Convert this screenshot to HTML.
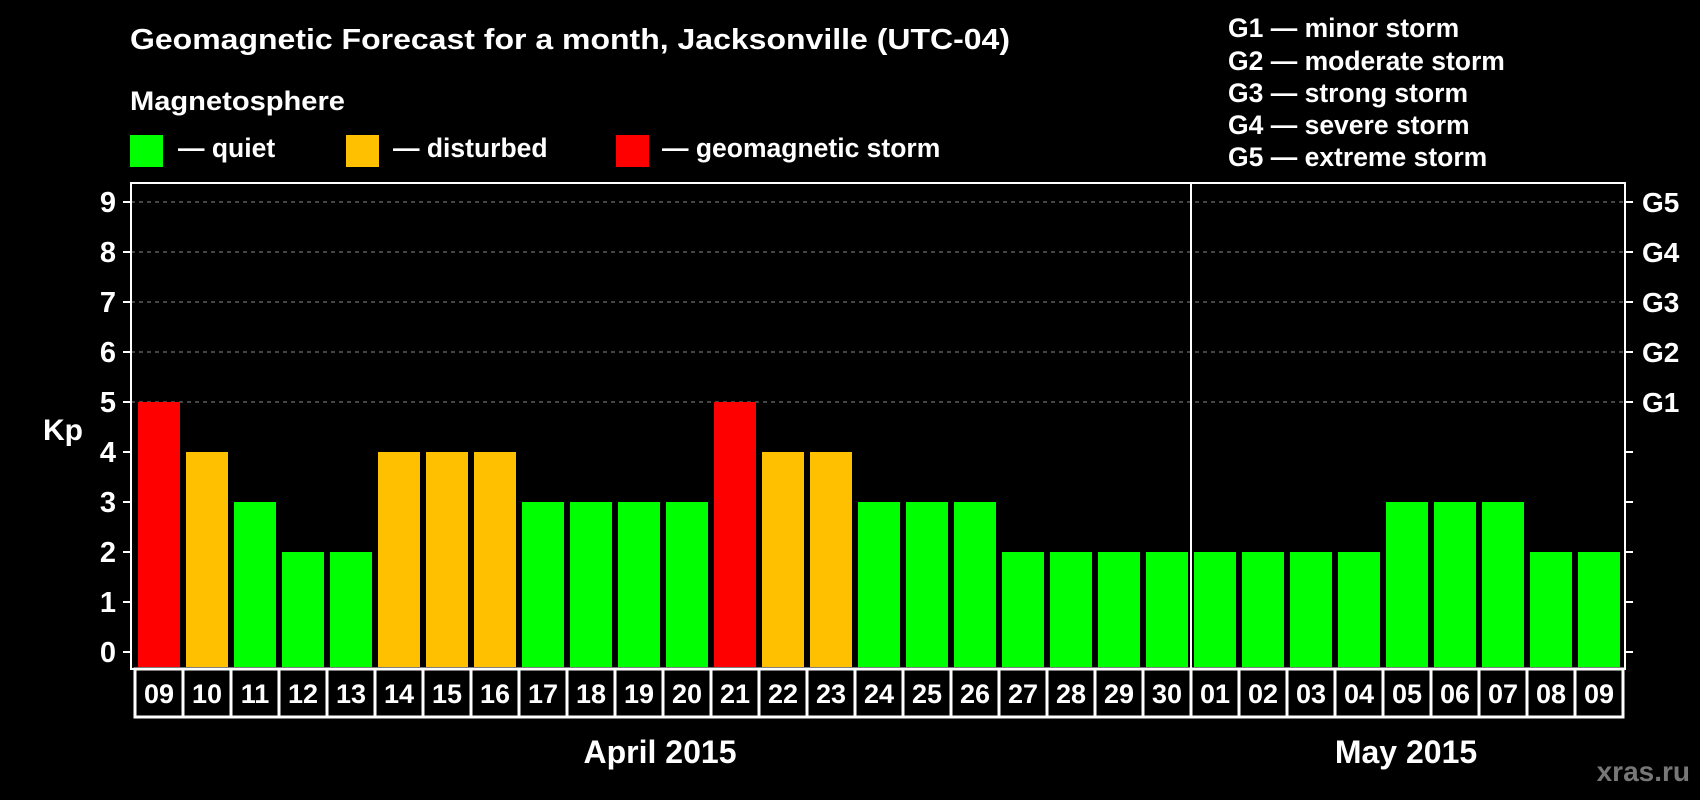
<!DOCTYPE html>
<html><head><meta charset="utf-8"><style>
html,body{margin:0;padding:0;background:#000;width:1700px;height:800px;overflow:hidden}
svg{display:block;font-family:"Liberation Sans",Arial,sans-serif;font-weight:bold}
</style></head><body>
<svg id="chart" width="1700" height="800">
<text x="130" y="49" fill="#fff" font-size="29" textLength="880" lengthAdjust="spacingAndGlyphs">Geomagnetic Forecast for a month, Jacksonville (UTC-04)</text>
<text x="130" y="110" fill="#fff" font-size="27" textLength="215" lengthAdjust="spacingAndGlyphs">Magnetosphere</text>
<g>
<rect x="130" y="135" width="33" height="32" fill="#00ff00"/>
<text x="178" y="157" fill="#fff" font-size="26.5">— quiet</text>
<rect x="346" y="135" width="33" height="32" fill="#ffc000"/>
<text x="393" y="157" fill="#fff" font-size="26.5">— disturbed</text>
<rect x="616" y="135" width="33" height="32" fill="#ff0000"/>
<text x="662" y="157" fill="#fff" font-size="26.5">— geomagnetic storm</text>
</g>
<g fill="#fff" font-size="26.5">
<text x="1228" y="37">G1 — minor storm</text>
<text x="1228" y="70">G2 — moderate storm</text>
<text x="1228" y="102">G3 — strong storm</text>
<text x="1228" y="134">G4 — severe storm</text>
<text x="1228" y="166">G5 — extreme storm</text>
</g>
<text x="43" y="440" fill="#fff" font-size="30">Kp</text>
<text x="660" y="763" fill="#fff" font-size="32" text-anchor="middle">April 2015</text>
<text x="1406" y="763" fill="#fff" font-size="32" text-anchor="middle">May 2015</text>
<text x="1690" y="781" fill="#777" font-size="28" text-anchor="end">xras.ru</text>
<g id="grid"></g><g id="bars"></g><g id="axes"></g>
</svg>
<script>
const days=["09","10","11","12","13","14","15","16","17","18","19","20","21","22","23","24","25","26","27","28","29","30","01","02","03","04","05","06","07","08","09"];
const kp=[5,4,3,2,2,4,4,4,3,3,3,3,5,4,4,3,3,3,2,2,2,2,2,2,2,2,3,3,3,2,2];
const yTicks=[0,1,2,3,4,5,6,7,8,9];
const gLabels=["G1","G2","G3","G4","G5"];
const gLevels=[5,6,7,8,9];
const monthBreak=22;
(function(){
const NS="http://www.w3.org/2000/svg";
const pLeft=131,pRight=1625,pTop=183,pBottom=669,x0=135,step=48;
function y(v){return 652-50*v;}
function x(i){return x0+step*i;}
function color(v){return v>=5?"#ff0000":v>=4?"#ffc000":"#00ff00";}
function mk(tag,attrs,parent){const e=document.createElementNS(NS,tag);for(const k in attrs)e.setAttribute(k,attrs[k]);parent.appendChild(e);return e;}
const grid=document.getElementById('grid'),bars=document.getElementById('bars'),axes=document.getElementById('axes');
gLevels.forEach((v,i)=>{
 const l=mk('line',{x1:pLeft,x2:pRight,y1:y(v),y2:y(v),stroke:'#888','stroke-width':1,'stroke-dasharray':'4,4'},grid);
 
 
 const t=mk('text',{x:pRight+17,y:y(v)+10,fill:'#fff','font-size':28},axes);t.textContent=gLabels[i];
 
 
});
kp.forEach((v,i)=>{
 const r=mk('rect',{x:x(i)+3,y:y(v),width:42,height:667-y(v),fill:color(v)},bars);
 
 
 const b=mk('rect',{x:x(i),y:pBottom,width:step,height:48,fill:'none',stroke:'#fff','stroke-width':3},axes);
 
 
 const t=mk('text',{x:x(i)+step/2,y:703,fill:'#fff','font-size':27,'text-anchor':'middle'},axes);t.textContent=days[i];
 
 
});
const frame=mk('rect',{x:pLeft,y:pTop,width:pRight-pLeft,height:pBottom-pTop,fill:'none',stroke:'#fff','stroke-width':2},axes);


const sep=mk('line',{x1:x(monthBreak),x2:x(monthBreak),y1:pTop,y2:pBottom,stroke:'#fff','stroke-width':2},axes);


yTicks.forEach(v=>{
 mk('line',{x1:pLeft-8,x2:pLeft,y1:y(v),y2:y(v),stroke:'#fff','stroke-width':2},axes);
 mk('line',{x1:pRight,x2:pRight+8,y1:y(v),y2:y(v),stroke:'#fff','stroke-width':2},axes);
 const t=mk('text',{x:116,y:y(v)+10,fill:'#fff','font-size':29,'text-anchor':'end'},axes);t.textContent=v;
 
 
});
})();
</script>
</body></html>
